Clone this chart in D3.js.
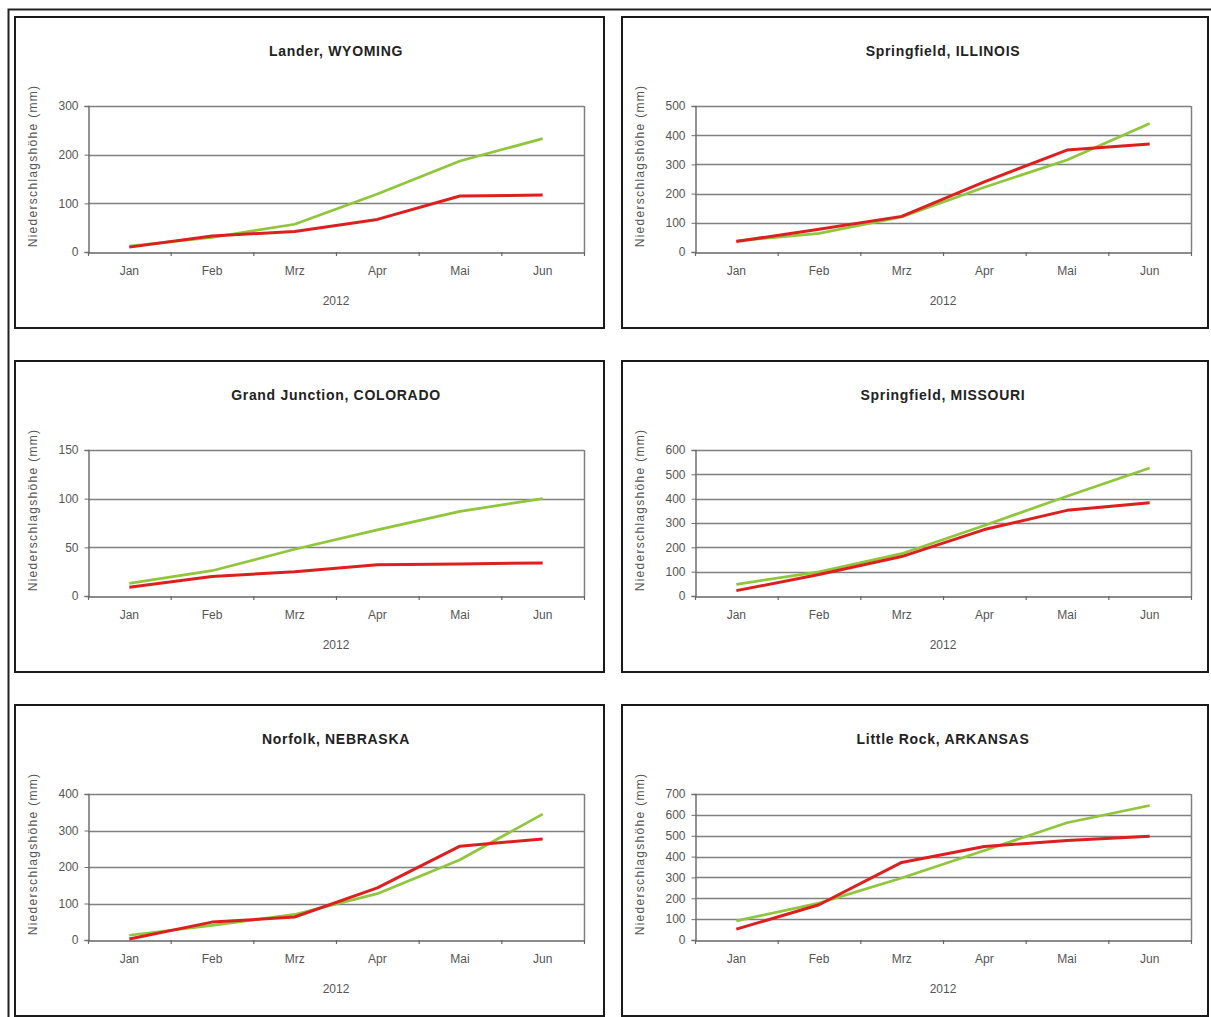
<!DOCTYPE html>
<html>
<head>
<meta charset="utf-8">
<script src="https://cdn.jsdelivr.net/npm/d3@7"></script>
<style>
  html, body { margin: 0; padding: 0; background: #fff; }
  svg { display: block; }
</style>
</head>
<body>
<script>
// ---- data ----
const months = ["Jan", "Feb", "Mrz", "Apr", "Mai", "Jun"];
const yearLabel = "2012";
const yLabel = "Niederschlagshöhe (mm)";
const titles = ["Lander, WYOMING", "Springfield, ILLINOIS", "Grand Junction, COLORADO",
                "Springfield, MISSOURI", "Norfolk, NEBRASKA", "Little Rock, ARKANSAS"];
const yMax = [300, 500, 150, 600, 400, 700];
const yStep = [100, 100, 50, 100, 100, 100];
// green series
const greenLander   = [12, 30, 57, 119, 187, 233];
const greenIllinois = [38, 64, 120, 222, 315, 440];
const greenColorado = [13, 26, 48, 68, 87, 100];
const greenMissouri = [48, 99, 174, 290, 410, 526];
const greenNebraska = [13, 40, 70, 127, 220, 345];
const greenArkansas = [92, 177, 297, 429, 562, 645];
// red series
const redLander   = [10, 33, 42, 67, 115, 117];
const redIllinois = [36, 78, 122, 240, 349, 370];
const redColorado = [9, 20, 25, 32, 33, 34];
const redMissouri = [22, 88, 162, 273, 352, 383];
const redNebraska = [3, 49, 63, 143, 257, 277];
const redArkansas = [52, 169, 372, 448, 477, 497];

const greens = [greenLander, greenIllinois, greenColorado, greenMissouri, greenNebraska, greenArkansas];
const reds = [redLander, redIllinois, redColorado, redMissouri, redNebraska, redArkansas];

// ---- layout ----
const W = 1211, H = 1017;
const svg = d3.select("body").append("svg").attr("width", W).attr("height", H);

// outer frame
svg.append("path")
  .attr("d", `M8.5,${H} L8.5,9.5 L${W},9.5`)
  .attr("fill", "none").attr("stroke", "#222").attr("stroke-width", 2);

const boxX = [15, 622], boxW = [589, 586];
const boxY0 = 17, rowStep = 344, boxH = 311;
const plotOffX = 73, plotOffY = 89, plotW = 496, plotH = 146;
const font = "'Liberation Sans', Arial, sans-serif";

titles.forEach((t, i) => {
  const c = i % 2, r = Math.floor(i / 2);
  const bx = boxX[c], by = boxY0 + r * rowStep;
  const g = svg.append("g");
  g.append("rect").attr("x", bx).attr("y", by).attr("width", boxW[c]).attr("height", boxH)
    .attr("fill", "#fff").attr("stroke", "#1a1a1a").attr("stroke-width", 2);

  const px = bx + plotOffX, py = by + plotOffY;
  const x = d3.scaleBand().domain(months).range([px, px + plotW]);
  const y = d3.scaleLinear().domain([0, yMax[i]]).range([py + plotH, py]);
  const ticks = d3.range(0, yMax[i] + 1, yStep[i]);

  // gridlines
  g.append("g").selectAll("line").data(ticks.filter(v => v > 0)).join("line")
    .attr("x1", px).attr("x2", px + plotW)
    .attr("y1", d => Math.round(y(d)) + 0.5).attr("y2", d => Math.round(y(d)) + 0.5)
    .attr("stroke", "#808080").attr("stroke-width", 1.5);
  // plot border (right side)
  g.append("line").attr("x1", px + plotW + 0.5).attr("x2", px + plotW + 0.5)
    .attr("y1", py).attr("y2", py + plotH).attr("stroke", "#808080").attr("stroke-width", 1.5);

  // y axis
  const yAxis = d3.axisLeft(y).tickValues(ticks).tickSize(4).tickPadding(6);
  const ya = g.append("g").attr("transform", `translate(${px + 0.5},0)`).call(yAxis);
  ya.select(".domain").attr("stroke", "#707070").attr("stroke-width", 1.5);
  ya.selectAll(".tick line").attr("stroke", "#707070");
  ya.selectAll("text").attr("font-family", font).attr("font-size", 12).attr("fill", "#555");

  // x axis
  const xAxis = d3.axisBottom(x).tickSize(0).tickPadding(14);
  const xa = g.append("g").attr("transform", `translate(0,${py + plotH + 0.5})`).call(xAxis);
  xa.select(".domain").attr("stroke", "#666").attr("stroke-width", 1.6);
  xa.selectAll("text").attr("font-family", font).attr("font-size", 12).attr("fill", "#555");
  // boundary tick marks
  const bounds = months.map(m => x(m)).concat([px + plotW]);
  g.append("g").selectAll("line").data(bounds).join("line")
    .attr("x1", d => d + 0.5).attr("x2", d => d + 0.5)
    .attr("y1", py + plotH).attr("y2", py + plotH + 4)
    .attr("stroke", "#666").attr("stroke-width", 1.2);

  // lines
  const line = d3.line().x((d, j) => x(months[j]) + x.bandwidth() / 2).y(d => y(d));
  g.append("path").datum(greens[i]).attr("d", line).attr("fill", "none")
    .attr("stroke", "#8fc63c").attr("stroke-width", 2.7).attr("stroke-linejoin", "round");
  g.append("path").datum(reds[i]).attr("d", line).attr("fill", "none")
    .attr("stroke", "#dc1f1f").attr("stroke-width", 3).attr("stroke-linejoin", "round");

  // title
  g.append("text").attr("x", px + plotW / 2).attr("y", by + 39)
    .attr("text-anchor", "middle").attr("font-family", font).attr("font-weight", "bold")
    .attr("font-size", 14).attr("letter-spacing", 0.7).attr("fill", "#222").text(t);
  // x title
  g.append("text").attr("x", px + plotW / 2).attr("y", py + plotH + 53)
    .attr("text-anchor", "middle").attr("font-family", font)
    .attr("font-size", 12).attr("fill", "#555").text(yearLabel);
  // y title
  g.append("text")
    .attr("transform", `translate(${bx + 22},${py + plotH / 2 - 13}) rotate(-90)`)
    .attr("text-anchor", "middle").attr("font-family", font)
    .attr("font-size", 12).attr("letter-spacing", 1.3).attr("fill", "#555").text(yLabel);
});
</script>
</body>
</html>
